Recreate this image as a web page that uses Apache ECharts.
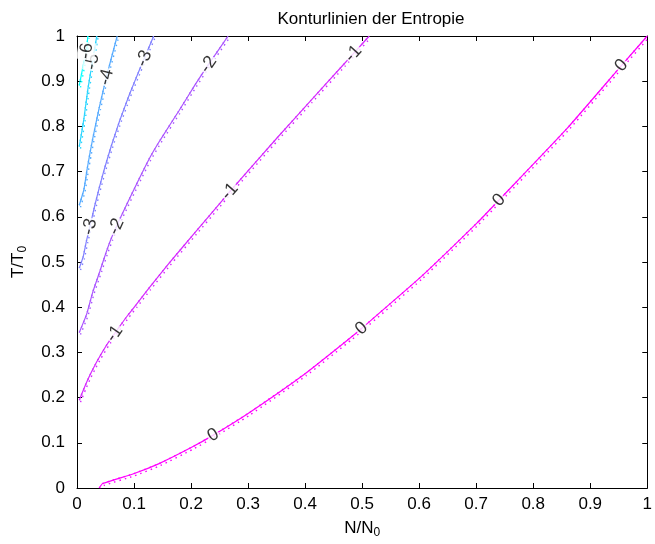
<!DOCTYPE html>
<html>
<head>
<meta charset="utf-8">
<script src="https://cdn.jsdelivr.net/npm/echarts@6/dist/echarts.min.js"></script>
<style>html,body{margin:0;padding:0;background:#fff}#c{width:655px;height:544px}</style>
</head>
<body>
<div id="c"></div>
<script>
// Contour levels and their lines (N/N0, T/T0)
const levels = [0, -1, -2, -3, -4, -5, -6];
const contour0 = [[0.039,0],[0.045,0.010],[0.098,0.031],[0.144,0.054],[0.201,0.090],[0.239,0.117],[0.30,0.165],[0.40,0.253],[0.481,0.334],[0.499,0.353],[0.603,0.467],[0.702,0.587],[0.740,0.637],[0.859,0.795],[0.955,0.935],[1.0,1.0]];
const contourM1 = [[0.004,0.1944],[0.0139,0.2251],[0.0225,0.2493],[0.0312,0.2712],[0.0399,0.2910],[0.0537,0.3196],[0.0659,0.3415],[0.0745,0.3569],[0.0884,0.3811],[0.1035,0.4052],[0.1265,0.4426],[0.1612,0.497],[0.2075,0.566],[0.2449,0.6215],[0.2681,0.656],[0.3518,0.776],[0.4095,0.8565],[0.4674,0.937],[0.4847,0.961],[0.5125,1.0]];
const contourM2 = [[0.004,0.344],[0.0168,0.384],[0.028,0.435],[0.040,0.479],[0.0515,0.523],[0.060,0.552],[0.069,0.578],[0.078,0.603],[0.1035,0.670],[0.1265,0.728],[0.147,0.772],[0.1785,0.834],[0.2075,0.893],[0.2305,0.937],[0.265,1.0]];
const contourM3 = [[0.004,0.4865],[0.0109,0.512],[0.0168,0.548],[0.0225,0.578],[0.0312,0.625],[0.0399,0.6685],[0.0485,0.708],[0.0601,0.7567],[0.0745,0.8114],[0.0919,0.8706],[0.1092,0.9242],[0.1179,0.9503],[0.1345,1.0]];
const contourM4 = [[0.004,0.6255],[0.0121,0.6604],[0.0173,0.702],[0.0225,0.7394],[0.0277,0.7737],[0.039,0.8415],[0.0515,0.909],[0.0705,1.0]];
const contourM5 = [[0.004,0.7555],[0.012,0.816],[0.019,0.882],[0.027,0.943],[0.0347,1.0]];
const contourM6 = [[0.004,0.8906],[0.0113,0.937],[0.0165,0.967],[0.019,1.0]];
const contours = [contour0, contourM1, contourM2, contourM3, contourM4, contourM5, contourM6];

// Contour label positions and texts
const labelLevel = [0, 0, 0, 0, -1, -1, -1, -2, -2, -3, -3, -4, -5, -6];
const labelX = [0.239, 0.499, 0.740, 0.955, 0.0659, 0.2681, 0.4847, 0.069, 0.2305, 0.0225, 0.1179, 0.0515, 0.027, 0.0165];
const labelY = [0.117, 0.353, 0.637, 0.935, 0.3415, 0.656, 0.961, 0.578, 0.937, 0.578, 0.9503, 0.909, 0.943, 0.967];

// Axis ticks
const xTicks = [0, 0.1, 0.2, 0.3, 0.4, 0.5, 0.6, 0.7, 0.8, 0.9, 1];
const yTicks = [0, 0.1, 0.2, 0.3, 0.4, 0.5, 0.6, 0.7, 0.8, 0.9, 1];

// MATLAB "cool" colormap for levels -6..0
function coolColor(lv) {
  const f = (lv + 6) / 6;
  const r = Math.round(255 * f), g = Math.round(255 * (1 - f));
  return 'rgb(' + r + ',' + g + ',255)';
}

const FONT = '"Liberation Sans", Arial, Helvetica, sans-serif';
const chart = echarts.init(document.getElementById('c'), null, {renderer: 'canvas'});

function axisCommon(extra) {
  return Object.assign({
    type: 'value', min: 0, max: 1, interval: 0.1,
    axisLine: {show: true, onZero: false, lineStyle: {color: '#000', width: 1}},
    axisTick: {show: true, inside: true, length: 5, lineStyle: {color: '#000', width: 1}},
    splitLine: {show: false}
  }, extra);
}

const lineSeries = [];
contours.forEach((c, i) => {
  const col = coolColor(levels[i]);
  lineSeries.push({
    type: 'line', data: c, symbol: 'none', silent: true, z: 3, animation: false, smooth: 0.15,
    lineStyle: {color: col, width: 1.2}
  });
  lineSeries.push({
    type: 'line', data: c, symbol: 'none', silent: true, z: 2, animation: false, smooth: 0.15,
    lineStyle: {color: col, width: 1.4, type: [1.5, 4], shadowColor: col, shadowBlur: 0, shadowOffsetX: 1.2, shadowOffsetY: 2}
  });
});

function labelSeries(rots) {
  return {
    type: 'scatter', z: 10, animation: false, silent: true,
    symbol: 'circle', symbolSize: 1, itemStyle: {color: 'rgba(0,0,0,0)'},
    labelLayout: {hideOverlap: false},
    data: labelX.map((x, i) => ({
      value: [x, labelY[i]],
      label: {rotate: rots ? rots[i] : 0, formatter: String(labelLevel[i])}
    })),
    label: {show: true, position: 'inside', color: '#000', fontSize: 18, fontFamily: FONT,
      textBorderWidth: 0, textShadowBlur: 0, backgroundColor: '#fff', padding: [0, 1]}
  };
}

const option = {
  backgroundColor: '#fff',
  animation: false,
  title: {
    text: 'Konturlinien der Entropie', left: 366, top: 6, textAlign: 'center',
    textStyle: {fontSize: 17, fontWeight: 'normal', color: '#000', fontFamily: FONT}
  },
  grid: {left: 77, right: 1, top: 36, bottom: 52.5, containLabel: false},
  xAxis: [
    axisCommon({
      position: 'bottom',
      axisLabel: {color: '#000', fontSize: 17, fontFamily: FONT, margin: 8,
        customValues: xTicks, formatter: v => String(+v.toFixed(1))},
      name: '{a|N/N}{b|0}', nameLocation: 'middle', nameGap: 30,
      nameTextStyle: {color: '#000', fontFamily: FONT,
        rich: {a: {fontSize: 17, color: '#000', fontFamily: FONT}, b: {fontSize: 12, color: '#000', fontFamily: FONT, padding: [9, 0, 0, 0]}}}
    }),
    axisCommon({position: 'top', axisLabel: {show: false}})
  ],
  yAxis: [
    axisCommon({
      position: 'left',
      axisLabel: {color: '#000', fontSize: 17, fontFamily: FONT, margin: 12,
        customValues: yTicks, formatter: v => String(+v.toFixed(1))},
      name: '{a|T/T}{b|0}', nameLocation: 'middle', nameGap: 48, nameRotate: 90,
      nameTextStyle: {color: '#000', fontFamily: FONT,
        rich: {a: {fontSize: 17, color: '#000', fontFamily: FONT}, b: {fontSize: 12, color: '#000', fontFamily: FONT, padding: [9, 0, 0, 0]}}}
    }),
    axisCommon({position: 'right', axisLabel: {show: false}})
  ],
  series: lineSeries.concat([labelSeries(null)])
};
chart.setOption(option);

// Orient each label along its contour
function angleFor(i) {
  const c = contours[levels.indexOf(labelLevel[i])];
  const p = chart.convertToPixel({gridIndex: 0}, [labelX[i], labelY[i]]);
  let best = 0, bd = Infinity;
  c.forEach((q, k) => {
    const pp = chart.convertToPixel({gridIndex: 0}, q);
    const d = (pp[0] - p[0]) ** 2 + (pp[1] - p[1]) ** 2;
    if (d < bd) { bd = d; best = k; }
  });
  const a = chart.convertToPixel({gridIndex: 0}, c[Math.max(0, best - 1)]);
  const b = chart.convertToPixel({gridIndex: 0}, c[Math.min(c.length - 1, best + 1)]);
  let ang = Math.atan2(-(b[1] - a[1]), b[0] - a[0]) * 180 / Math.PI;
  if (ang > 90) ang -= 180;
  if (ang < -90) ang += 180;
  return ang;
}
const rots = labelX.map((_, i) => angleFor(i));
const s = option.series.slice(0, -1).concat([labelSeries(rots)]);
chart.setOption({series: s});
</script>
</body>
</html>
